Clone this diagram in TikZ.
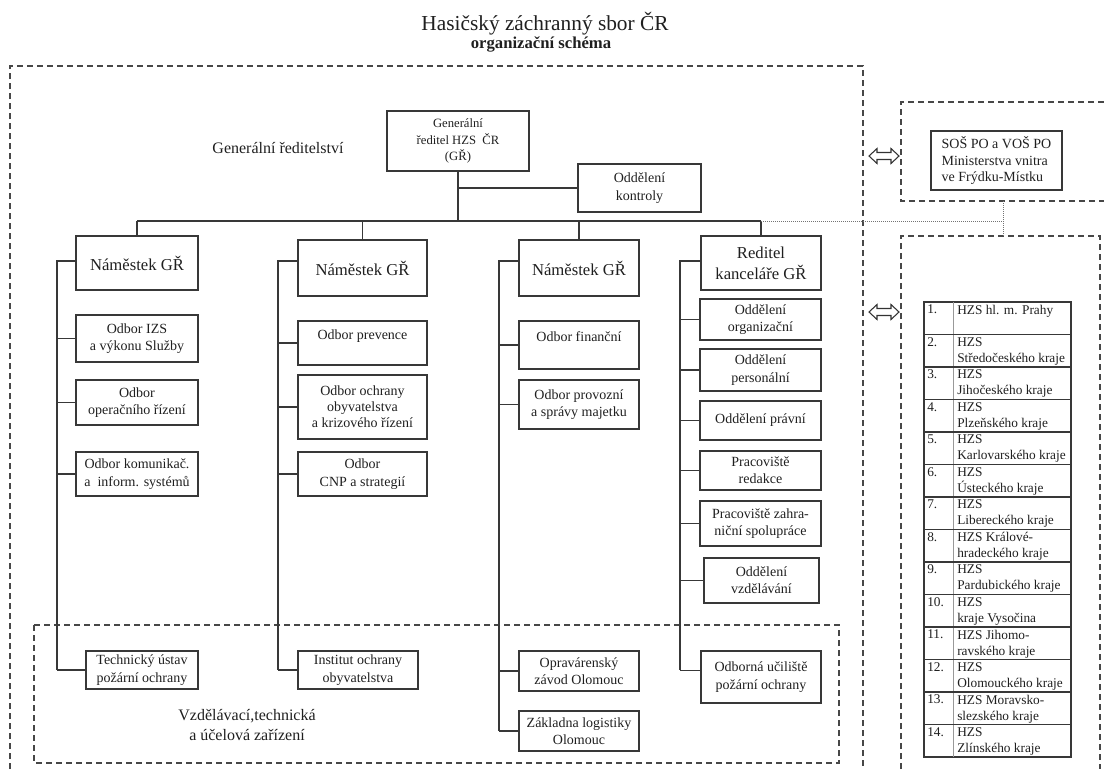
\documentclass[tikz,border=0pt]{standalone}
\usepackage{fontspec}
\setmainfont{Liberation Serif}
\begin{document}
\begin{tikzpicture}[x=0.75pt,y=-0.75pt,
  ln/.style={draw=black!78, line width=0.9pt},
  box/.style={draw=black!78, line width=0.9pt, align=center, inner sep=1pt, text=black!88, font=\fontsize{10.5}{13}\selectfont},
  big/.style={font=\fontsize{12.5}{16}\selectfont},
  dbox/.style={draw=black!72, line width=0.8pt, dash pattern=on 4.5pt off 3pt},
  dotln/.style={draw=black!55, line width=0.6pt, dash pattern=on 0.75pt off 0.75pt},
  lbl/.style={text=black!88, align=center},
  cell/.style={text=black!88, align=left, anchor=north west, inner sep=0pt, font=\fontsize{10}{12}\selectfont}
]
\newcommand{\bx}[7][]{%
  \pgfmathsetmacro{\myBW}{(#5-#3)*0.75}%
  \pgfmathsetmacro{\myBH}{(#6-#4)*0.75}%
  \node[box, minimum width=\myBW pt, minimum height=\myBH pt, #1] (#2) at ({(#3+#5)/2},{(#4+#6)/2}) {#7};}
\useasboundingbox (0,0) rectangle (1104,769);

% titles
\node[lbl, font=\fontsize{16}{19}\selectfont] (title) at (545,24) {Hasičský záchranný sbor ČR};
\node[lbl, font=\fontsize{12.5}{15}\selectfont\bfseries] (subtitle) at (541,44) {organizační schéma};

% dashed frames
\draw[dbox] (10,769) -- (10,66) -- (863,66) -- (863,769);
\draw[dbox] (34,625) rectangle (839,763);
\draw[dbox] (1104,102) -- (901,102) -- (901,201) -- (1104,201);
\draw[dbox] (901,769) -- (901,236) -- (1100,236) -- (1100,769);

\node[lbl, font=\fontsize{12}{15}\selectfont] (gen) at (278,148) {Generální ředitelství};
\node[lbl, font=\fontsize{12}{15}\selectfont] (vzd) at (247,725) {Vzdělávací,technická\\a účelová zařízení};

% top
\bx[font=\fontsize{9.5}{12.5}\selectfont]{gr}{387}{111}{529}{171}{Generální\\ředitel HZS\enspace ČR\\(GŘ)}
\bx{kont}{578}{164}{701}{212}{Oddělení\\kontroly}
\bx[big]{n1}{76}{236}{198}{290}{Náměstek GŘ}
\bx[big]{n2}{298}{240}{427}{296}{Náměstek GŘ}
\bx[big]{n3}{519}{240}{639}{296}{Náměstek GŘ}
\bx[big]{n4}{701}{236}{821}{290}{Reditel\\kanceláře GŘ}

% column 1
\bx{a1}{76}{315}{198}{362}{Odbor IZS\\a výkonu Služby}
\bx{a2}{76}{380}{198}{425}{Odbor\\operačního řízení}
\bx{a3}{76}{452}{198}{496}{Odbor komunikač.\\a\ \ inform. systémů}
\bx{a4}{86}{651}{198}{689}{Technický ústav\\požární ochrany}
% column 2
\bx{b1}{298}{321}{427}{365}{Odbor prevence\\\mbox{}}
\bx[font=\fontsize{10.5}{12}\selectfont]{b2}{298}{375}{427}{439}{Odbor ochrany\\obyvatelstva\\a krizového řízení}
\bx{b3}{298}{452}{427}{496}{Odbor\\CNP a strategií}
\bx{b4}{298}{651}{418}{689}{Institut ochrany\\obyvatelstva}
% column 3
\bx{c1}{519}{321}{639}{369}{Odbor finanční\\\mbox{}}
\bx{c2}{519}{380}{639}{429}{Odbor provozní\\a správy majetku}
\bx{c3}{519}{651}{639}{691}{Opravárenský\\závod Olomouc}
\bx{c4}{519}{711}{639}{751}{Základna logistiky\\Olomouc}
% column 4
\bx{d1}{700}{299}{821}{340}{Oddělení\\organizační}
\bx{d2}{700}{349}{821}{391}{Oddělení\\personální}
\bx{d3}{700}{401}{821}{440}{Oddělení právní}
\bx{d4}{700}{451}{821}{490}{Pracoviště\\redakce}
\bx{d5}{700}{501}{821}{546}{Pracoviště zahra-\\niční spolupráce}
\bx{d6}{704}{558}{819}{603}{Oddělení\\vzdělávání}
\bx{d7}{701}{651}{821}{703}{Odborná učiliště\\požární ochrany}

% SOSPO
\bx[align=left, font=\fontsize{10.5}{12.5}\selectfont]{sos}{931}{131}{1062}{190}{SOŠ PO a VOŠ PO\\Ministerstva vnitra\\ve Frýdku-Místku}

% connectors
\coordinate (bar) at (0,221);
\draw[ln] (n1.north|-bar) -- (n4.north|-bar);
\foreach \n in {n1,n2,n3,n4} \draw[ln] (\n.north|-bar) -- (\n.north);
\draw[ln] (gr.south) -- (gr.south|-bar);
\draw[ln] (gr.south|-kont.west) -- (kont.west);

\coordinate (v1) at (57,261);
\coordinate (v2) at (278,261);
\coordinate (v3) at (499,261);
\coordinate (v4) at (680,261);
\coordinate (j7) at ([yshift=5pt]d7.west);
\draw[ln] (n1.west|-v1) -- (v1) -- (v1|-a4.west);
\draw[ln] (n2.west|-v2) -- (v2) -- (v2|-b4.west);
\draw[ln] (n3.west|-v3) -- (v3) -- (v3|-c4.west);
\draw[ln] (n4.west|-v4) -- (v4) -- (v4|-j7);
\foreach \b in {a1,a2,a3,a4} \draw[ln] (v1|-\b.west) -- (\b.west);
\foreach \b in {b1,b2,b3,b4} \draw[ln] (v2|-\b.west) -- (\b.west);
\foreach \b in {c1,c2,c3,c4} \draw[ln] (v3|-\b.west) -- (\b.west);
\foreach \b in {d1,d2,d3,d4,d5,d6} \draw[ln] (v4|-\b.west) -- (\b.west);
\draw[ln] (v4|-j7) -- (j7);

% dotted link
\coordinate (dj) at (1003,221);
\coordinate (sosb) at (1003,201);
\coordinate (krt) at (1003,236);
\draw[dotln] (n4.north|-bar) -- (dj);
\draw[dotln] (sosb) -- (krt);

% double arrows
\foreach \yy in {156,312}{
  \draw[draw=black!80, line width=0.8pt, fill=white, line join=miter]
    (869,\yy) -- (877,\yy-7.5) -- (877,\yy-3.5) -- (891,\yy-3.5) -- (891,\yy-7.5) -- (899,\yy)
    -- (891,\yy+7.5) -- (891,\yy+3.5) -- (877,\yy+3.5) -- (877,\yy+7.5) -- cycle;
}

% table of regional units
\draw[ln] (924,302) rectangle (1071,757);
\draw[draw=black!40, line width=0.5pt] (953,302) -- (953,757);
\foreach \i in {1,...,13} \draw[ln] (924,{302+\i*32.5}) -- (1071,{302+\i*32.5});
\foreach \i/\t in {1/{HZS hl. m. Prahy},
  2/{HZS\\Středočeského kraje},
  3/{HZS\\Jihočeského kraje},
  4/{HZS\\Plzeňského kraje},
  5/{HZS\\Karlovarského kraje},
  6/{HZS\\Ústeckého kraje},
  7/{HZS\\Libereckého kraje},
  8/{HZS Králové-\\hradeckého kraje},
  9/{HZS\\Pardubického kraje},
  10/{HZS\\kraje Vysočina},
  11/{HZS Jihomo-\\ravského kraje},
  12/{HZS\\Olomouckého kraje},
  13/{HZS Moravsko-\\slezského kraje},
  14/{HZS\\Zlínského kraje}}{
  \node[cell] (num\i) at (927,{302+(\i-1)*32.5+2.5}) {\i.};
  \node[cell] (reg\i) at (957,{302+(\i-1)*32.5+2.5}) {\t};
}
\end{tikzpicture}
\end{document}
